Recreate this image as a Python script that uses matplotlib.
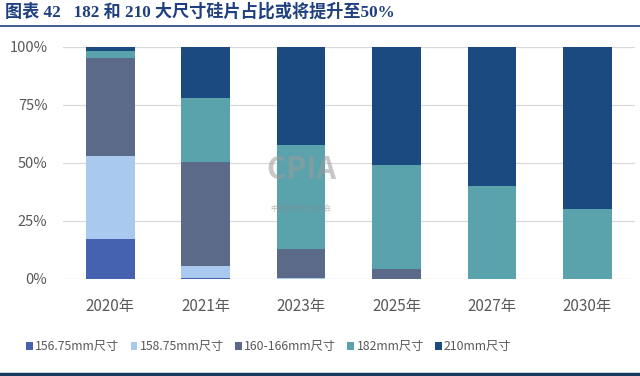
import matplotlib.pyplot as plt
import numpy as np

plt.rcParams['font.family'] = ['Noto Sans CJK SC', 'DejaVu Sans']

years = ['2020年', '2021年', '2023年', '2025年', '2027年', '2030年']
series = ['156.75mm尺寸', '158.75mm尺寸', '160-166mm尺寸', '182mm尺寸', '210mm尺寸']
s156 = [17.4, 0.4, 0.0, 0.0, 0.0, 0.0]
s158 = [35.5, 5.4, 0.6, 0.0, 0.0, 0.0]
s166 = [42.2, 44.6, 12.2, 4.3, 0.0, 0.0]
s182 = [3.2, 27.6, 44.8, 44.7, 40.0, 30.0]
s210 = [1.7, 22.0, 42.4, 51.0, 60.0, 70.0]
colors = ['#4462b0', '#a9c9ee', '#5a6a88', '#5aa3ac', '#1b4a80']

fig = plt.figure(figsize=(6.4, 3.76), dpi=100)
ax = fig.add_axes([0.098, 0.258, 0.894, 0.618])

x = np.arange(len(years))
bottom = np.zeros(len(years))
for vals, name, c in zip([s156, s158, s166, s182, s210], series, colors):
    v = np.array(vals) / 100.0
    ax.bar(x, v, 0.51, bottom=bottom, color=c, label=name, zorder=3)
    bottom += v

ax.set_xlim(-0.5, len(years) - 0.5)
ax.set_ylim(0, 1)
ax.set_yticks([0, 0.25, 0.5, 0.75, 1.0])
ax.set_yticklabels(['0%', '25%', '50%', '75%', '100%'])
ax.set_xticks(x)
ax.set_xticklabels(years)
ax.tick_params(axis='y', length=0, pad=11, labelsize=10.5, labelcolor='#595959')
ax.tick_params(axis='x', length=0, pad=14, labelsize=11, labelcolor='#595959')
ax.grid(axis='y', color='#d9d9d9', linewidth=0.9, zorder=0)
for s in ax.spines.values():
    s.set_visible(False)

# watermark
ax.text(2.0, 0.47, 'CPIA', ha='center', va='center', fontsize=22, fontweight='bold',
        color='#9a9a9a', alpha=0.55, zorder=4)
ax.text(2.0, 0.30, '中国光伏行业协会', ha='center', va='center', fontsize=5.5,
        color='#8a8a8a', alpha=0.6, zorder=4)

fig.legend(loc='center', bbox_to_anchor=(0.42, 0.078), ncol=5, frameon=False,
           fontsize=8.8, handlelength=0.55, handleheight=0.55, handletextpad=0.2,
           columnspacing=0.9, labelcolor='#595959')

fig.text(0.008, 0.968, '图表 42   182 和 210 大尺寸硅片占比或将提升至50%', ha='left', va='center',
         fontsize=12.3, fontweight='bold', color='#1f3f7f',
         family=['Liberation Serif', 'Noto Sans CJK SC'])
fig.add_artist(plt.Line2D([0, 1], [0.932, 0.932], color='#1f3f7f', linewidth=1.2))
fig.add_artist(plt.Line2D([0, 1], [0.006, 0.006], color='#173a5e', linewidth=2.5))

fig.savefig('out.png', dpi=100)
